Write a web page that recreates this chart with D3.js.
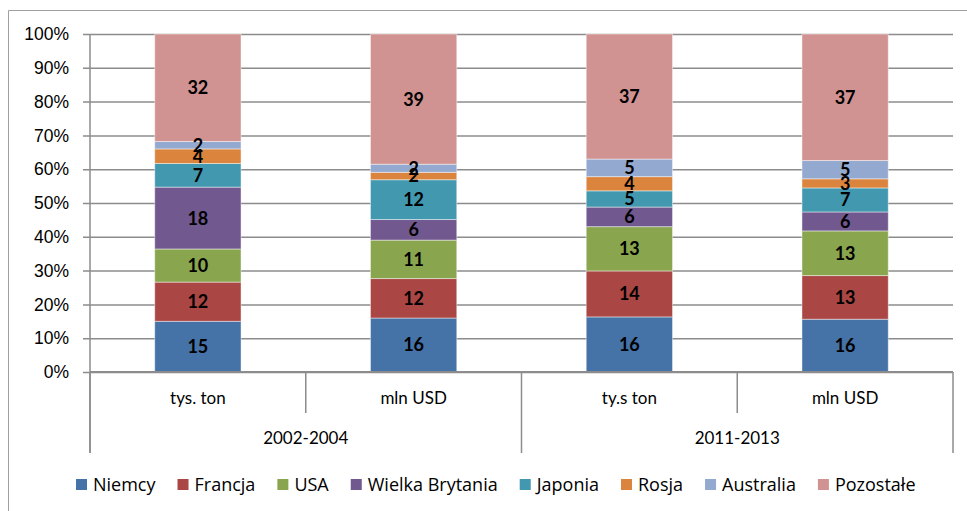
<!DOCTYPE html>
<html>
<head>
<meta charset="utf-8">
<script src="https://cdn.jsdelivr.net/npm/d3@7"></script>
<style>
  body{margin:0;background:#fff;}
  svg{display:block;font-family:Lato,"Open Sans",sans-serif;}
</style>
</head>
<body>
<svg id="chart" width="967" height="511"></svg>
<script>
// data
var categories = ['tys. ton','mln USD','ty.s ton','mln USD'];
var periods = ['2002-2004','2011-2013'];
var countries = ['Niemcy','Francja','USA','Wielka Brytania','Japonia','Rosja','Australia','Pozostałe'];
var colors = ['#4572A7','#AA4643','#89A54E','#71588F','#4198AF','#DB843D','#93A9CF','#D19392'];

var niemcy    = [15.0,16.0,16.3,15.6];
var francja   = [11.6,11.7,13.6,12.9];
var usa       = [ 9.8,11.4,13.1,13.2];
var wBrytania = [18.3, 6.1, 5.8, 5.6];
var japonia   = [ 7.0,11.8, 4.8, 7.1];
var rosja     = [ 4.3, 2.2, 4.2, 2.7];
var australia = [ 2.2, 2.4, 5.2, 5.4];
var pozostale = [31.8,38.6,37.0,37.4];
var yTicks = [0,0.1,0.2,0.3,0.4,0.5,0.6,0.7,0.8,0.9,1];

var series = [niemcy,francja,usa,wBrytania,japonia,rosja,australia,pozostale];

var W = 967, H = 511;
var m = {left:90, right:14, top:34, bottom:139};
var w = W - m.left - m.right, h = H - m.top - m.bottom;

var svg = d3.select('#chart');

// frame
svg.append('path')
    .attr('d','M8.5,' + H + 'V10.5H' + W)
    .attr('fill','none')
    .attr('stroke','#a0a0a0')
    .attr('stroke-width',1);

var rows = categories.map(function(c,i){
    var r = {key:i};
    countries.forEach(function(k,j){ r[k] = series[j][i]; });
    return r;
});

var stack = d3.stack().keys(countries).offset(d3.stackOffsetExpand);
var layers = stack(rows);

//set scale
var scaleX = d3.scaleBand()
    .domain(d3.range(categories.length))
    .range([0,w])
    .paddingInner(0.6)
    .paddingOuter(0.3);

var scaleY = d3.scaleLinear()
    .domain([0,1])
    .range([h,0]);

var plot = svg.append('g')
    .attr('transform','translate(' + m.left + ',' + m.top + ')');

//gridlines + y axis
var axisY = d3.axisLeft()
    .scale(scaleY)
    .tickValues(yTicks)
    .tickFormat(d3.format('.0%'))
    .tickSize(-w)
    .tickPadding(21);

var gy = plot.append('g').attr('class','axis axis-y').call(axisY);
gy.select('.domain').remove();
gy.selectAll('.tick line')
    .attr('x1',-7)
    .attr('stroke','#8c8c8c')
    .attr('stroke-width',1.5);
gy.selectAll('.tick text')
    .attr('fill','#000')
    .style('font-size','17.5px');

plot.append('line')
    .attr('x1',0).attr('x2',0)
    .attr('y1',0).attr('y2',h + 81)
    .attr('stroke','#8c8c8c')
    .attr('stroke-width',1.5);

//bars
var groups = plot.selectAll('.layer')
    .data(layers)
    .enter()
    .append('g')
    .attr('class','layer')
    .attr('fill',function(d,i){return colors[i]});

groups.selectAll('rect')
    .data(function(d){return d})
    .enter()
    .append('rect')
    .attr('x',function(d,i){return scaleX(i)})
    .attr('width',scaleX.bandwidth())
    .attr('y',function(d){return scaleY(d[1])})
    .attr('height',function(d){return scaleY(d[0]) - scaleY(d[1])})
    .attr('stroke','rgba(255,255,255,0.45)')
    .attr('stroke-width',1);

//labels
layers.forEach(function(layer,j){
    plot.selectAll('.lbl' + j)
        .data(layer)
        .enter()
        .append('text')
        .attr('class','lbl' + j)
        .attr('x',function(d,i){return scaleX(i) + scaleX.bandwidth()/2})
        .attr('y',function(d){return (scaleY(d[0]) + scaleY(d[1]))/2})
        .attr('dy','0.36em')
        .attr('text-anchor','middle')
        .style('font-size','18px')
        .style('font-weight','bold')
        .text(function(d,i){return Math.round(series[j][i])});
});

//x axis (two levels)
plot.append('line')
    .attr('x1',0).attr('x2',w)
    .attr('y1',h).attr('y2',h)
    .attr('stroke','#8c8c8c')
    .attr('stroke-width',2);

var step = scaleX.step();
var x0 = scaleX(0) - scaleX.paddingOuter()*step;

categories.forEach(function(c,i){
    plot.append('text')
        .attr('x',scaleX(i) + scaleX.bandwidth()/2)
        .attr('y',h + 32)
        .attr('text-anchor','middle')
        .style('font-size','17px')
        .text(c);
});

// separators: short inside a period, long between periods
d3.range(categories.length + 1).forEach(function(i){
    var sx = x0 + i*step;
    var long = (i % 2 == 0);
    plot.append('line')
        .attr('x1',sx).attr('x2',sx)
        .attr('y1',h).attr('y2',h + (long ? 81 : 41))
        .attr('stroke','#8c8c8c')
        .attr('stroke-width',1.5);
});

periods.forEach(function(p,i){
    plot.append('text')
        .attr('x',x0 + (i*2 + 1)*step)
        .attr('y',h + 72)
        .attr('text-anchor','middle')
        .style('font-size','17px')
        .text(p);
});

//legend
var legend = svg.append('g').attr('transform','translate(76,479)');
var lx = 0;
countries.forEach(function(k,i){
    var it = legend.append('g').attr('transform','translate(' + lx + ',0)');
    it.append('rect')
        .attr('width',11).attr('height',11)
        .attr('fill',colors[i]);
    var t = it.append('text')
        .attr('x',17).attr('y',12)
        .style('font-family','"Open Sans",sans-serif')
        .style('font-size','18px')
        .text(k);
    lx += 17 + t.node().getComputedTextLength() + 22;
});
</script>
</body>
</html>
